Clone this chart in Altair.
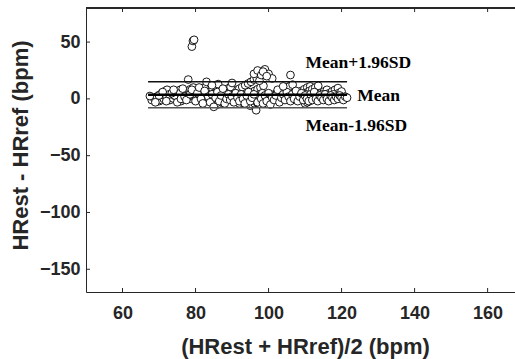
import altair as alt
import pandas as pd

# ---------------- data ----------------
# rising streaks of points (mean HR, difference)
streak_x = [
    70, 70.7, 71.3, 72, 72.6, 73.2, 73.9, 74.5, 75.1, 75.8,
    73, 73.8, 74.6, 75.4, 76.2, 77, 77.8, 78.6, 79.4,
    79, 79.8, 80.6, 81.4, 82.2, 83, 83.8, 84.6, 85.4, 86.2,
    88, 88.8, 89.6, 90.4, 91.2, 92, 92.8, 93.6, 94.4, 95.2, 96, 96.8,
    99, 99.8, 100.6, 101.4, 102.2, 103, 103.8, 104.6, 105.4, 106.2,
    105, 105.8, 106.6, 107.4, 108.2, 109, 109.8, 110.6, 111.4,
    112, 112.8, 113.6, 114.4, 115.2, 116,
    82, 82.8, 83.6, 84.4, 85.2, 86, 86.8, 87.6,
    92, 92.8, 93.6, 94.4, 95.2, 96,
    115, 115.8, 116.6, 117.4, 118.2, 119,
    68, 68.7, 69.4, 70.1, 70.8, 71.5, 72.2,
    76, 76.8, 77.6, 78.4, 79.2, 80, 80.8, 81.6, 82.4,
    84, 84.8, 85.6, 86.4, 87.2, 88, 88.8, 89.6,
    93, 93.8, 94.6, 95.4, 96.2, 97, 97.8, 98.6,
    101, 101.8, 102.6, 103.4, 104.2, 105, 105.8, 106.6,
    108, 108.8, 109.6, 110.4, 111.2, 112, 112.8, 113.6,
    116, 116.8, 117.6, 118.4, 119.2, 120,
    86, 86.6, 87.2, 87.8, 88.4, 89, 89.6, 90.2,
    95, 95.6, 96.2, 96.8, 97.4, 98, 98.6, 99.2,
    110, 110.6, 111.2, 111.8, 112.4, 113, 113.6,
]
streak_y = [
    -2, -1, 0, 1, 2, 3, 4.5, 5.5, 6.5, 8,
    -1, 0.5, 2, 3, 4.5, 6, 7, 8.5, 10,
    0, 1.5, 3, 4, 5.5, 7, 8, 9.5, 11, 13,
    2, 3.5, 5, 6, 7.5, 9, 10.5, 12, 13.5, 15, 17, 18,
    -1, 0.5, 2, 3.5, 5, 6, 7.5, 9, 10.5, 12,
    0, 1.5, 3, 4, 5.5, 7, 8.5, 10, 11,
    1, 2.5, 4, 5, 6.5, 8,
    -3, -1.5, 0, 1.5, 3, 4.5, 6, 7.5,
    -4, -2.5, -1, 0.5, 2, 3.5,
    2, 3.5, 5, 6.5, 8, 9.5,
    -1, 0.5, 2, 3.5, 5, 6.5, 8,
    -2, -0.5, 1, 2.5, 4, 5.5, 7, 8.5, 10,
    0, 1.5, 3, 4.5, 6, 7.5, 9, 10.5,
    1, 2.5, 4, 5.5, 7, 8.5, 10, 11.5,
    2, 3.5, 5, 6.5, 8, 9.5, 11, 12.5,
    1, 2.5, 4, 5.5, 7, 8.5, 10, 11.5,
    -1, 0.5, 2, 3.5, 5, 6.5,
    -5, -4, -3, -2, -1, 0, 1, 2,
    -6, -5, -4, -3, -2, -1, 0, 1,
    -4, -3, -2, -1, 0, 1, 2,
]
# dense band of points around the mean
band_x = [72, 73.5, 75, 76.5, 78, 79.5, 81, 82.5, 84, 85.5, 87, 88.5, 90, 91.5,
          93, 94.5, 96, 97.5, 99, 100.5, 102, 103.5, 105, 106.5, 108, 109.5,
          111, 112.5, 114, 115.5, 117, 118.5,
          72.8, 74.3, 75.8, 77.3, 78.8, 80.3, 81.8, 83.3, 84.8, 86.3, 87.8,
          89.3, 90.8, 92.3, 93.8, 95.3, 96.8, 98.3, 99.8, 101.3, 102.8, 104.3,
          105.8, 107.3, 108.8, 110.3, 111.8, 113.3, 114.8, 116.3, 117.8]
band_y = [3, 4, 2, 5, 3, 4, 2, 4, 3, 5, 3, 4, 2, 4, 3, 5, 2, 4, 3, 4, 2, 5,
          3, 4, 2, 4, 3, 5, 3, 4, 2, 3,
          4, 3, 5, 2, 4, 3, 5, 3, 4, 2, 4, 3, 5, 3, 2, 4, 3, 5, 4, 2, 3, 4,
          3, 5, 2, 4, 3, 2, 4, 3, 4]
# scattered points
scatter_x = [
    67.5, 69, 70, 71, 72, 73.5, 74, 75, 76, 76.5, 77, 77.5, 78, 78.5, 79,
    80, 80.5, 81, 81.5, 82, 82.5, 83, 83.5, 84, 84.5, 85, 85.5, 86, 86.5,
    87, 87.5, 88, 88.5, 89, 89.5, 90, 90.5, 91, 91.5, 92, 92.5, 93, 93.5,
    94, 94.5, 95, 95.5, 96, 96, 96.6, 97, 97, 97.5, 98, 98, 98.5, 99, 99,
    99.5, 100, 100, 100.5, 101, 101, 101.5, 102, 102.5, 103, 103.5, 104,
    104.5, 105, 105.5, 106, 106, 106.5, 107, 107.5, 108, 108.5, 109, 109.5,
    110, 110.5, 111, 111.5, 112, 112.5, 113, 113.5, 114, 114.5, 115, 115.5,
    116, 116.5, 117, 117.5, 118, 118.5, 119, 119.5, 120, 120.5, 121, 121.5,
    79, 79.3, 79.6, 98.5, 99.5, 84.5, 90, 104,
]
scatter_y = [
    2.5, -3, 3, 6, -2, 5, 8, -3, 0, 9, 2, -1, 17, 4, 8,
    -2, 5, 10, 0, -4, 7, 15, 2, -3, 4, -7, 1, 6, -2,
    3, 9, -4, 0, 4, -1, 2, -3, 5, 1, -2, 4, 0, -4,
    3, 6, -2, 1, 4, 22, -10, 25, -3, 16, 0, 21, -4, 26, 3,
    -2, 22, 5, -5, 18, 1, -1, 3, 8, -3, 1, 4,
    -1, 6, 2, 21, -2, 4, 0, 7, -2, 2, 5, -1,
    3, 0, -2, 4, -1, 6, 0, -2, 3, 1, -1, 4,
    0, -2, 3, 1, -1, 2, 0, 3, 1, -1, 2, 1,
    46, 51, 52, 24, 20, 12, 14, 11,
]

mean_diff = 3.7
upper_loa = 15.1
lower_loa = -7.7
line_start = 67
line_end = 121.5

line_labels = ["Mean+1.96SD", "Mean", "Mean-1.96SD"]
label_x = [110.1, 124.3, 110.1]
label_y = [26.9, -1.8, -28.0]

x_ticks = [60, 80, 100, 120, 140, 160]
y_ticks = [50, 0, -50, -100, -150]

# ---------------- chart ----------------
W, H = 429, 284
AX = "#262626"

pts = pd.DataFrame({"x": streak_x + band_x + scatter_x,
                    "y": streak_y + band_y + scatter_y})
lines = pd.DataFrame({
    "y": [upper_loa, mean_diff, lower_loa],
    "x1": [line_start] * 3,
    "x2": [line_end] * 3,
    "w": [1.5, 2.6, 1.5],
    "c": ["#111111", "#000000", "#555555"],
})
labels = pd.DataFrame({"t": line_labels, "x": label_x, "y": label_y})

xs = alt.Scale(domain=[50, 167.5], nice=False, zero=False)
ys = alt.Scale(domain=[-170, 80], nice=False, zero=False)

xaxis = alt.Axis(values=x_ticks, title="(HRest + HRref)/2 (bpm)",
                 labelPadding=12, titlePadding=14, titleX=219, titleAnchor="middle",
                 labelFontWeight=900, labelFont="Arial")
yaxis = alt.Axis(values=y_ticks, title="HRest - HRref (bpm)",
                 labelPadding=6, titlePadding=7, titleY=137, titleAnchor="middle",
                 labelFontWeight=900, labelFont="Arial")

points = alt.Chart(pts).mark_point(
    shape="circle", filled=False, fill="white", fillOpacity=1, stroke="black",
    strokeWidth=0.9, size=60, opacity=1
).encode(
    x=alt.X("x:Q", scale=xs, axis=xaxis),
    y=alt.Y("y:Q", scale=ys, axis=yaxis),
)

rules = alt.Chart(lines).mark_rule().encode(
    x=alt.X("x1:Q", scale=xs, axis=xaxis),
    x2="x2:Q",
    y=alt.Y("y:Q", scale=ys, axis=yaxis),
    strokeWidth=alt.StrokeWidth("w:Q", scale=None),
    color=alt.Color("c:N", scale=None),
)

texts = alt.Chart(labels).mark_text(
    font="Liberation Serif", fontWeight="bold", fontSize=17.5, align="left",
    baseline="alphabetic", color="black"
).encode(x=alt.X("x:Q", scale=xs, axis=xaxis), y=alt.Y("y:Q", scale=ys, axis=yaxis), text="t:N")

xt = pd.DataFrame({"v": x_ticks})
yt = pd.DataFrame({"v": y_ticks})
bot_ticks = alt.Chart(xt).mark_rule(color=AX, strokeWidth=1).encode(
    x=alt.X("v:Q", scale=xs, axis=xaxis), y=alt.value(H), y2=alt.value(H - 4))
top_ticks = alt.Chart(xt).mark_rule(color=AX, strokeWidth=1).encode(
    x=alt.X("v:Q", scale=xs, axis=xaxis), y=alt.value(0), y2=alt.value(4))
left_ticks = alt.Chart(yt).mark_rule(color=AX, strokeWidth=1).encode(
    y=alt.Y("v:Q", scale=ys, axis=yaxis), x=alt.value(0), x2=alt.value(4))
top_line = alt.Chart(xt).mark_rule(color=AX, strokeWidth=1).encode(
    x=alt.value(0), x2=alt.value(W), y=alt.value(0))

chart = alt.layer(points, rules, texts, bot_ticks, top_ticks, left_ticks, top_line).properties(
    width=W, height=H,
    autosize=alt.AutoSizeParams(type="none"),
    padding={"left": 86, "top": 8, "right": 0, "bottom": 67},
    background="white",
).configure_view(stroke=None).configure_axis(
    labelFont="Liberation Sans", labelFontWeight="bold", labelFontSize=18,
    labelColor=AX, titleFont="Liberation Sans", titleFontWeight="bold",
    titleFontSize=22, titleColor=AX, domainColor=AX, domainWidth=1,
    ticks=False, grid=False,
)

chart.save("out.html", embed_options={"renderer": "svg", "actions": False})
